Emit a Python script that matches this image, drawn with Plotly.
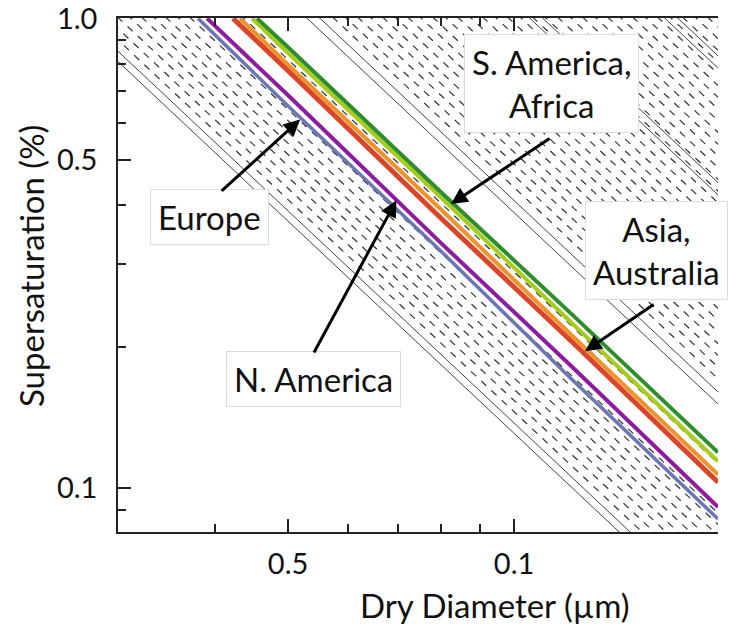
import math
import plotly.graph_objects as go

# Continental-mean activation curves: dry diameter (µm) vs critical supersaturation (%)
europe_d = [0.03794, 0.05, 0.08, 0.12, 0.1869]
europe_s = [1.0, 0.651, 0.319, 0.1692, 0.0860]
n_america_d = [0.03900, 0.05, 0.08, 0.12, 0.1869]
n_america_s = [1.0, 0.686, 0.3320, 0.1801, 0.0912]
asia_d = [0.04223, 0.05, 0.08, 0.12, 0.1869]
asia_s = [1.0, 0.774, 0.3752, 0.2035, 0.1030]
australia_d = [0.04315, 0.05, 0.08, 0.12, 0.1869]
australia_s = [1.0, 0.797, 0.3915, 0.2098, 0.1070]
africa_d = [0.04477, 0.05, 0.08, 0.12, 0.1869]
africa_s = [1.0, 0.844, 0.4152, 0.2229, 0.1141]
s_america_d = [0.04547, 0.05, 0.08, 0.12, 0.1869]
s_america_s = [1.0, 0.868, 0.4261, 0.2327, 0.1192]

# Hygroscopicity isolines, given by the dry diameter (µm) that activates at 1 % supersaturation
solid_iso_d1 = [0.02578, 0.02666, 0.05302, 0.05516, 0.10503, 0.10930, 0.1589, 0.1654]
dashed_iso_d1 = [
    0.02766, 0.02870, 0.02977, 0.03089, 0.03205, 0.03325, 0.03449, 0.03579, 0.03713,
    0.04369,
    0.05758, 0.05983, 0.06217, 0.06460, 0.06712, 0.06974, 0.07247, 0.07530, 0.07824,
    0.08130, 0.08448, 0.08778, 0.09121, 0.09477, 0.09847, 0.10232, 0.10632, 0.11047,
    0.11479, 0.11927, 0.12393, 0.12877, 0.13380, 0.13903, 0.14446, 0.15011, 0.15597,
    0.16207, 0.16840, 0.17498, 0.18182,
]

x_tick_vals = [0.05, 0.1]
x_tick_text = ["0.5", "0.1"]
x_minor_vals = [0.04, 0.06, 0.07, 0.08, 0.09]
y_tick_vals = [0.1, 0.5, 1.0]
y_tick_text = ["0.1", "0.5", "1.0"]
y_minor_vals = [0.09, 0.2, 0.3, 0.4, 0.6, 0.7, 0.8, 0.9]

X_RANGE = (0.02968, 0.1869)
Y_RANGE = (0.0807, 1.002)
FONT = "Lato"
TEXT_COLOR = "#111111"


def isoline(d1, s_hi=1.4, s_lo=0.06):
    """Critical supersaturation scales as D^-3/2 along a line of constant hygroscopicity."""
    return [d1 * s_hi ** (-2.0 / 3.0), d1 * s_lo ** (-2.0 / 3.0)], [s_hi, s_lo]


fig = go.Figure()

for d1 in solid_iso_d1:
    x, y = isoline(d1)
    fig.add_trace(go.Scatter(x=x, y=y, mode="lines", hoverinfo="skip",
                             line=dict(color="#444444", width=1), showlegend=False))
for i, d1 in enumerate(dashed_iso_d1):
    # stagger the dash phase between neighbouring lines
    x, y = isoline(d1, s_hi=1.4 * (1.0 + 0.06 * (i % 2)))
    fig.add_trace(go.Scatter(x=x, y=y, mode="lines", hoverinfo="skip",
                             line=dict(color="#333333", width=1.2, dash="7px,7px"),
                             showlegend=False))

curves = [
    ("Europe", europe_d, europe_s, "#6d76b4", 3.5),
    ("N. America", n_america_d, n_america_s, "#8d1d9e", 4),
    ("Asia", asia_d, asia_s, "#d8462c", 5),
    ("Australia", australia_d, australia_s, "#f2922a", 4),
    ("Africa", africa_d, africa_s, "#a7cc1e", 4),
    ("S. America", s_america_d, s_america_s, "#2e8f2a", 4),
]
for name, d, s, color, w in curves:
    fig.add_trace(go.Scatter(x=d, y=s, mode="lines", name=name,
                             line=dict(color=color, width=w), showlegend=False))

label_font = dict(family=FONT, size=33, color=TEXT_COLOR)
boxes = [
    ("S. America,<br>Africa", 0.7233, 0.8716),
    ("Europe", 0.1517, 0.6119),
    ("N. America", 0.325, 0.2967),
    ("Asia,<br>Australia", 0.898, 0.5467),
]
for text, px, py in boxes:
    fig.add_annotation(text=text, xref="paper", yref="paper", x=px, y=py,
                       xanchor="center", yanchor="middle", showarrow=False,
                       font=label_font, bgcolor="white", bordercolor="#dcdcdc",
                       borderwidth=1, borderpad=7)

# Arrows: (tail D, tail s) -> (head D, head s)
arrows = [
    ((0.0406, 0.4266), (0.0519, 0.609)),
    ((0.0540, 0.193), (0.0697, 0.410)),
    ((0.1120, 0.5576), (0.0824, 0.4025)),
    ((0.1541, 0.2473), (0.1243, 0.1957)),
]
for (td, ts), (hd, hs) in arrows:
    fig.add_annotation(x=math.log10(hd), y=math.log10(hs),
                       ax=math.log10(td), ay=math.log10(ts),
                       xref="x", yref="y", axref="x", ayref="y", text="",
                       showarrow=True, arrowhead=2, arrowsize=1.1, arrowwidth=3,
                       arrowcolor="#000000", standoff=0, startstandoff=0)

# Axis titles
fig.add_annotation(text="Dry Diameter (µm)", xref="paper", yref="paper",
                   x=0.628, y=-0.142, xanchor="center", yanchor="middle",
                   showarrow=False, font=dict(family=FONT, size=33, color=TEXT_COLOR))
fig.add_annotation(text="Supersaturation (%)", xref="paper", yref="paper",
                   x=-0.145, y=0.5175, xanchor="center", yanchor="middle",
                   textangle=-90, showarrow=False,
                   font=dict(family=FONT, size=33, color=TEXT_COLOR))

axis_common = dict(
    type="log", showgrid=False, zeroline=False, showline=True, automargin=False,
    linecolor="#222222", linewidth=1.5, ticks="inside", tickcolor="#222222",
    tickwidth=1.5, ticklen=13, ticklabeloverflow="allow",
    tickfont=dict(family=FONT, size=29, color=TEXT_COLOR),
)
fig.update_xaxes(
    **axis_common, mirror="ticks",
    range=[math.log10(X_RANGE[0]), math.log10(X_RANGE[1])],
    tickvals=x_tick_vals, ticktext=x_tick_text, ticklabelstandoff=5,
    minor=dict(tickvals=x_minor_vals, ticks="inside", ticklen=8,
               tickcolor="#222222", tickwidth=1.5, showgrid=False),
)
fig.update_yaxes(
    **axis_common, mirror=False,
    range=[math.log10(Y_RANGE[0]), math.log10(Y_RANGE[1])],
    tickvals=y_tick_vals, ticktext=y_tick_text, ticklabelstandoff=13,
    minor=dict(tickvals=y_minor_vals, ticks="inside", ticklen=8,
               tickcolor="#222222", tickwidth=1.5, showgrid=False),
)

fig.update_layout(
    width=731, height=635, autosize=False,
    margin=dict(l=118, r=13, t=18, b=103, autoexpand=False),
    paper_bgcolor="white", plot_bgcolor="white",
    font=dict(family=FONT, color=TEXT_COLOR),
)

fig.write_html("out.html")
